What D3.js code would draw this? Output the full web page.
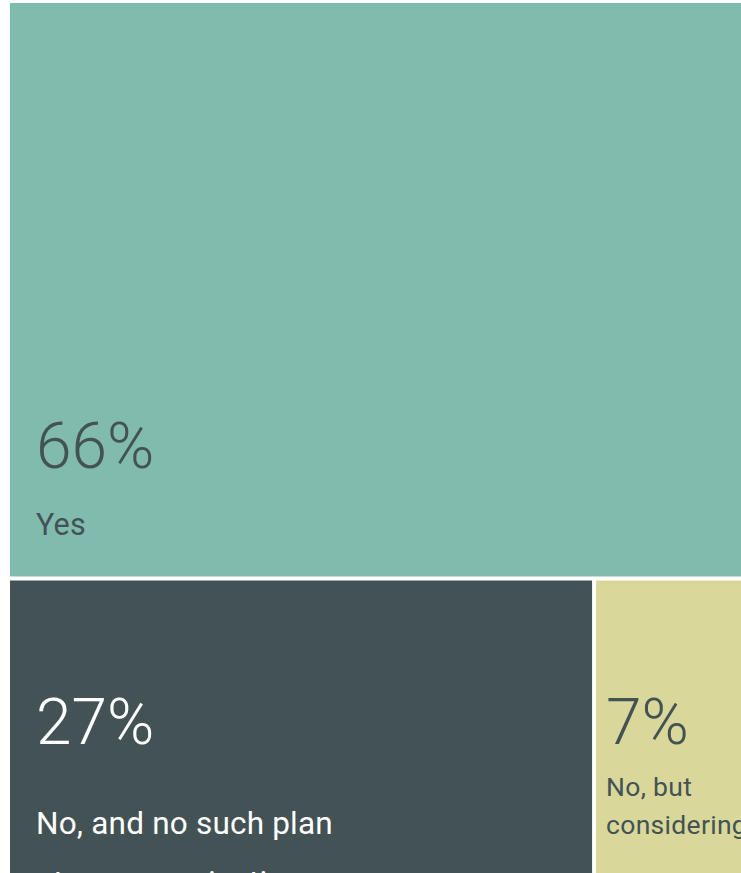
<!DOCTYPE html>
<html>
<head>
<meta charset="utf-8">
<script src="https://cdn.jsdelivr.net/npm/d3@7"></script>
<style>
  html, body { margin: 0; padding: 0; background: #ffffff; overflow: hidden; }
  svg { display: block; }
  text { font-family: Roboto, "Open Sans", "Liberation Sans", sans-serif; }
</style>
</head>
<body>
<svg id="chart" width="741" height="873"></svg>
<script>
// ---- data ----
const categories = ["Yes", "No, and no such plan at our organization", "No, but considering"];
const values = [66, 27, 7];
const colors = ["#80bbad", "#435255", "#d9d89a"];
const textColors = ["#435255", "#ffffff", "#435255"];

const svg = d3.select("#chart");
const W = 734, H = 871;
const g = svg.append("g").attr("transform", "translate(10,3)");

const root = d3.hierarchy({children: categories.map((c, i) => ({name: c, value: values[i], i}))})
  .sum(d => d.value || 0);

d3.treemap()
  .tile(d3.treemapSquarify)
  .size([W, H])
  .paddingInner(4)
  .round(false)(root);

const leaves = root.leaves();

const cell = g.selectAll("g.cell").data(leaves).join("g").attr("class", "cell");

cell.append("rect")
  .attr("x", d => d.x0)
  .attr("y", d => d.y0)
  .attr("width", d => d.x1 - d.x0)
  .attr("height", d => d.y1 - d.y0)
  .attr("fill", d => colors[d.data.i]);

function wrap(textSel, words, maxW, lineH) {
  let line = [];
  let tspan = textSel.append("tspan").attr("x", textSel.attr("x")).attr("dy", 0);
  words.forEach(w => {
    line.push(w);
    tspan.text(line.join(" "));
    if (tspan.node().getComputedTextLength() > maxW && line.length > 1) {
      line.pop();
      tspan.text(line.join(" "));
      line = [w];
      tspan = textSel.append("tspan").attr("x", textSel.attr("x")).attr("dy", lineH).text(w);
    }
  });
}

cell.each(function(d) {
  const sel = d3.select(this);
  const w = d.x1 - d.x0, h = d.y1 - d.y0;
  const small = w < 200;
  const pad = small ? 10 : 26;
  const tall = h > 400;
  const pctSize = 64;
  const labSize = small ? 26.5 : (tall ? 30.5 : 31.5);
  let pctBase, labBase;
  if (tall) {
    labBase = d.y1 - 41.5;
    pctBase = labBase - 67;
  } else {
    pctBase = d.y0 + 163.5;
    labBase = pctBase + (small ? 52 : 90);
  }
  const x = d.x0 + pad;
  sel.append("text")
    .attr("x", x).attr("y", pctBase)
    .attr("fill", textColors[d.data.i])
    .style("font-size", pctSize + "px")
    .style("font-weight", 300)
    .text(d3.format(".0%")(d.value / 100));
  const lab = sel.append("text")
    .attr("x", x).attr("y", labBase)
    .attr("fill", textColors[d.data.i])
    .style("font-size", labSize + "px")
    .style("letter-spacing", small ? "0.3px" : "0.2px")
    .style("font-weight", 400);
  const maxW = small ? (w - 2 * pad) : 330;
  wrap(lab, d.data.name.split(" "), maxW, small ? 38 : 59);
});
</script>
</body>
</html>
